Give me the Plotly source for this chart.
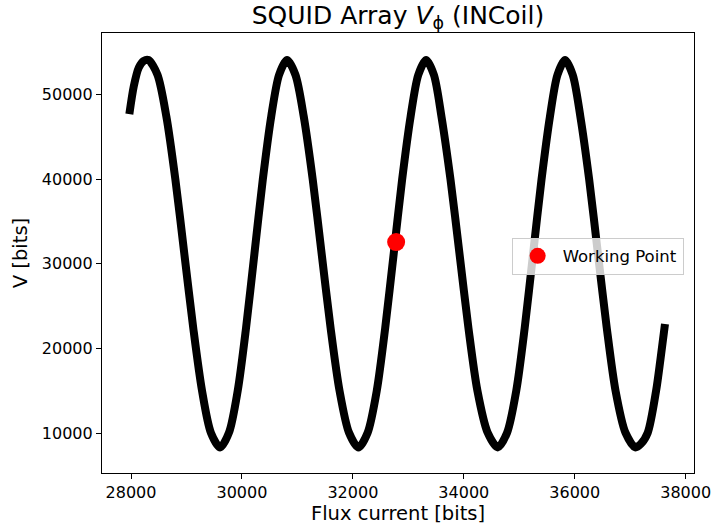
import plotly.graph_objects as go

# Flux current [bits] (x) and V [bits] (y)
flux = [27970, 28050, 28140, 28230, 28315,
        28477, 28638, 28800, 28961, 29122, 29280, 29440, 29607,
        29766, 29924, 30074, 30225, 30376, 30527, 30670, 30813,
        30964, 31115, 31276, 31437, 31598, 31759, 31930, 32101,
        32266, 32431, 32583, 32736, 32888, 33040, 33180, 33320,
        33460, 33598, 33760, 33922, 34083, 34245, 34430, 34613,
        34780, 34946, 35098, 35249, 35401, 35552, 35689, 35825,
        35963, 36102, 36260, 36418, 36577, 36735, 36914, 37092,
        37190, 37316, 37467, 37545, 37627]
volts = [47700, 51000, 53200, 54000, 54100,
         52360, 47390, 39970, 31200, 22430, 15010, 10040, 8300,
         10040, 15010, 22430, 31200, 39970, 47390, 52360, 54100,
         52360, 47390, 39970, 31200, 22430, 15010, 10040, 8300,
         10040, 15010, 22430, 31200, 39970, 47390, 52360, 54100,
         52360, 47390, 39970, 31200, 22430, 15010, 10040, 8300,
         10040, 15010, 22430, 31200, 39970, 47390, 52360, 54100,
         52360, 47390, 39970, 31200, 22430, 15010, 10040, 8300,
         8700, 10040, 15010, 18700, 22900]

wp_flux = [32780]
wp_volt = [32580]

x_ticks = [28000, 30000, 32000, 34000, 36000, 38000]
y_ticks = [10000, 20000, 30000, 40000, 50000]

FONT = "DejaVu Sans"

fig = go.Figure()
fig.add_trace(go.Scatter(
    x=flux, y=volts, mode="lines",
    line=dict(color="black", width=8, shape="spline", smoothing=0.8),
    showlegend=False, hoverinfo="skip"))
fig.add_trace(go.Scatter(
    x=wp_flux, y=wp_volt, mode="markers", name="Working Point",
    marker=dict(color="#ff0000", size=18)))

axis_common = dict(
    showgrid=False, zeroline=False, showline=True, linecolor="black",
    linewidth=1.2, mirror=True, ticks="outside", ticklen=5, tickwidth=1.2,
    tickcolor="black", ticklabeloverflow="allow", automargin=False,
    tickfont=dict(family=FONT, size=16, color="black"),
    title_font=dict(family=FONT, size=19.5, color="black"))

fig.update_xaxes(range=[27477, 38150], tickvals=x_ticks,
                 ticktext=[str(v) for v in x_ticks],
                 title_text="Flux current [bits]", title_standoff=4,
                 **axis_common)
fig.update_yaxes(range=[5271, 57295], tickvals=y_ticks,
                 ticktext=[str(v) for v in y_ticks],
                 title_text="V [bits]", title_standoff=8,
                 **axis_common)

fig.update_layout(
    width=711, height=532,
    margin=dict(l=102, r=17, t=33, b=59, autoexpand=False),
    paper_bgcolor="white", plot_bgcolor="white",
    font=dict(family=FONT, size=16, color="black"),
    title=dict(text="SQUID Array <i>V</i><sub>ϕ</sub> (INCoil)",
               x=(102 + 694) / 2 / 711, xanchor="center",
               y=1 - 15 / 532, yanchor="middle",
               font=dict(family=FONT, size=25, color="black")),
    legend=dict(x=0.692, y=0.535, xanchor="left", yanchor="top",
                bgcolor="rgba(255,255,255,0.8)", bordercolor="#cccccc",
                borderwidth=1, font=dict(family=FONT, size=16.5, color="black"),
                itemsizing="trace", itemwidth=40),
)

fig.write_html("out.html")
